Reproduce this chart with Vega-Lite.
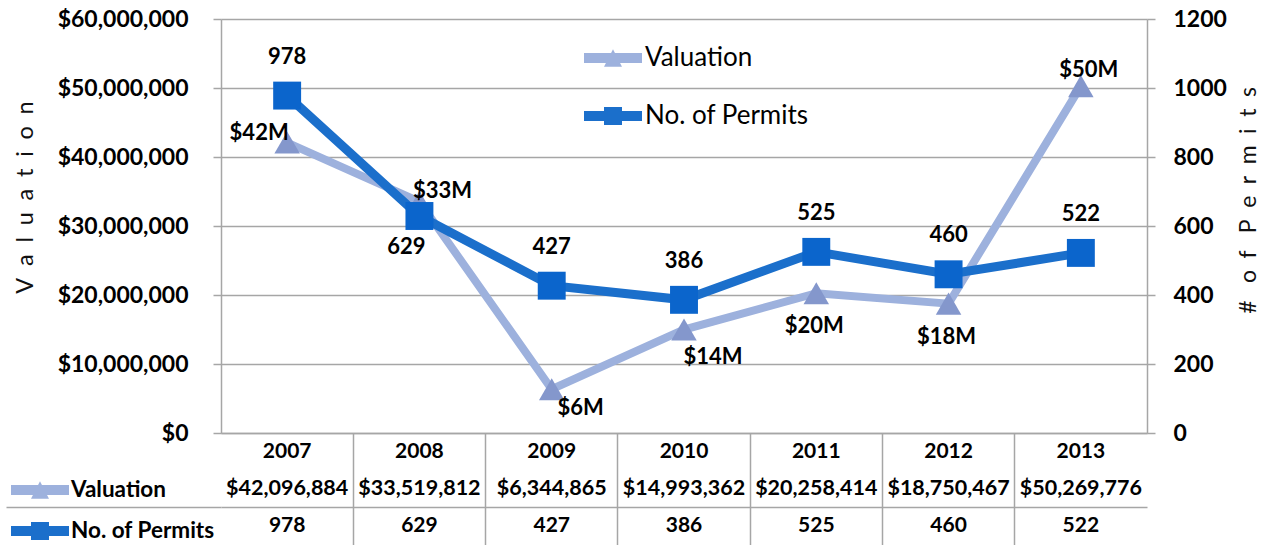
{
  "$schema": "https://vega.github.io/schema/vega-lite/v6.json",
  "padding": {"left": 5, "top": 8, "right": 5, "bottom": 0},
  "background": "white",
  "config": {"font": "Lato", "view": {"stroke": null}, "text": {"font": "Lato"}},
  "data": {"values": [
    {"year": 2007, "valuation": 42096884, "permits": 978, "vlabel": "$42M"},
    {"year": 2008, "valuation": 33519812, "permits": 629, "vlabel": "$33M"},
    {"year": 2009, "valuation": 6344865, "permits": 427, "vlabel": "$6M"},
    {"year": 2010, "valuation": 14993362, "permits": 386, "vlabel": "$14M"},
    {"year": 2011, "valuation": 20258414, "permits": 525, "vlabel": "$20M"},
    {"year": 2012, "valuation": 18750467, "permits": 460, "vlabel": "$18M"},
    {"year": 2013, "valuation": 50269776, "permits": 522, "vlabel": "$50M"}
  ]},
  "spacing": 0,
  "bounds": "flush",
  "resolve": {"scale": {"x": "independent", "color": "independent", "shape": "independent"}, "legend": {"color": "independent", "shape": "independent"}},
  "vconcat": [
    {
      "width": 926,
      "height": 414,
      "resolve": {"scale": {"y": "independent"}},
      "layer": [
        {
          "encoding": {
            "x": {"field": "year", "type": "ordinal", "scale": {"type": "point", "padding": 0.5}, "axis": {"title": null, "labels": false, "ticks": false, "domain": true, "domainColor": "#A6A6A6", "domainWidth": 1.5, "grid": false}},
            "y": {"field": "valuation", "type": "quantitative", "scale": {"domain": [0, 60000000]},
              "axis": {"orient": "left", "title": "V\u2002a\u2002l\u2002u\u2002a\u2002t\u2002i\u2002o\u2002n", "titleFontSize": 23.5, "titleFontWeight": "normal", "titleColor": "#111", "titlePadding": 20, "titleY": 178,
                "format": "$,.0f", "values": [0, 10000000, 20000000, 30000000, 40000000, 50000000, 60000000],
                "labelFontSize": 23, "labelFontWeight": "bold", "labelColor": "#000", "labelPadding": 25,
                "tickSize": 8, "tickColor": "#A6A6A6", "tickWidth": 1.5, "domainColor": "#A6A6A6", "domainWidth": 1.5,
                "grid": true, "gridColor": "#A6A6A6", "gridWidth": 1.5}}
          },
          "layer": [
            {"mark": {"type": "line", "color": "#9DB1DD", "strokeWidth": 8}},
            {"mark": {"type": "point", "shape": "triangle-up", "filled": true, "size": 650, "color": "#8497CC", "opacity": 1}}
          ]
        },
        {
          "encoding": {
            "x": {"field": "year", "type": "ordinal", "scale": {"type": "point", "padding": 0.5}, "axis": {"title": null, "labels": false, "ticks": false, "domain": true, "domainColor": "#A6A6A6", "domainWidth": 1.5, "grid": false}},
            "y": {"field": "permits", "type": "quantitative", "scale": {"domain": [0, 1200]},
              "axis": {"orient": "right", "title": "#\u2002 o\u2002f\u2002 P\u2002e\u2002r\u2002m\u2002i\u2002t\u2002s", "titleAngle": 270, "titleFontSize": 23, "titleFontWeight": "normal", "titleColor": "#111", "titlePadding": 34, "titleY": 181,
                "format": "d", "values": [0, 200, 400, 600, 800, 1000, 1200],
                "labelFontSize": 23, "labelFontWeight": "bold", "labelColor": "#000", "labelPadding": 18,
                "tickSize": 8, "tickColor": "#A6A6A6", "tickWidth": 1.5, "domainColor": "#A6A6A6", "domainWidth": 1.5,
                "grid": false}}
          },
          "layer": [
            {"mark": {"type": "line", "color": "#1B6FCB", "strokeWidth": 9}},
            {"mark": {"type": "point", "shape": "square", "filled": true, "size": 780, "color": "#0B65CC", "opacity": 1}}
          ]
        },
        {
          "encoding": {
            "x": {"field": "year", "type": "ordinal", "scale": {"type": "point", "padding": 0.5}, "axis": {"title": null, "labels": false, "ticks": false, "domain": true, "domainColor": "#A6A6A6", "domainWidth": 1.5, "grid": false}},
            "y": {"field": "valuation", "type": "quantitative", "scale": {"domain": [0, 60000000]}, "axis": null},
            "text": {"field": "vlabel", "type": "nominal"}
          },
          "layer": [
            {"transform": [{"filter": "datum.year == 2007"}], "mark": {"type": "text", "dx": -28, "dy": -10, "fontSize": 22, "fontWeight": "bold", "color": "#000"}},
            {"transform": [{"filter": "datum.year == 2008"}], "mark": {"type": "text", "dx": 23, "dy": -11, "fontSize": 22, "fontWeight": "bold", "color": "#000"}},
            {"transform": [{"filter": "datum.year == 2009"}], "mark": {"type": "text", "dx": 29, "dy": 19, "fontSize": 22, "fontWeight": "bold", "color": "#000"}},
            {"transform": [{"filter": "datum.year == 2010"}], "mark": {"type": "text", "dx": 29, "dy": 27, "fontSize": 22, "fontWeight": "bold", "color": "#000"}},
            {"transform": [{"filter": "datum.year == 2011 || datum.year == 2012"}], "mark": {"type": "text", "dx": -2, "dy": 33, "fontSize": 22, "fontWeight": "bold", "color": "#000"}},
            {"transform": [{"filter": "datum.year == 2013"}], "mark": {"type": "text", "dx": 8, "dy": -16, "fontSize": 22, "fontWeight": "bold", "color": "#000"}}
          ]
        },
        {
          "encoding": {
            "x": {"field": "year", "type": "ordinal", "scale": {"type": "point", "padding": 0.5}, "axis": {"title": null, "labels": false, "ticks": false, "domain": true, "domainColor": "#A6A6A6", "domainWidth": 1.5, "grid": false}},
            "y": {"field": "permits", "type": "quantitative", "scale": {"domain": [0, 1200]}, "axis": null},
            "text": {"field": "permits", "type": "nominal"}
          },
          "layer": [
            {"transform": [{"filter": "datum.year != 2008"}], "mark": {"type": "text", "dy": -39, "fontSize": 22, "fontWeight": "bold", "color": "#000"}},
            {"transform": [{"filter": "datum.year == 2008"}], "mark": {"type": "text", "dx": -13, "dy": 31, "fontSize": 22, "fontWeight": "bold", "color": "#000"}}
          ]
        },
        {
          "data": {"values": [{"series": "Valuation"}, {"series": "No. of Permits"}]},
          "transform": [{"filter": "false"}],
          "mark": {"type": "point", "filled": true, "opacity": 1},
          "encoding": {
            "color": {"field": "series", "type": "nominal", "scale": {"domain": ["Valuation", "No. of Permits"], "range": ["#9DB1DD", "#1B6FCB"]},
              "legend": {"orient": "none", "legendX": 363, "legendY": 10, "title": null, "symbolSize": 3364, "symbolStrokeWidth": 0, "labelFontSize": 26, "labelFont": "Lato", "labelColor": "#000", "labelOffset": 3, "labelLimit": 400, "rowPadding": 16}},
            "shape": {"field": "series", "type": "nominal", "scale": {"domain": ["Valuation", "No. of Permits"], "range": ["M-1,-0.17H1V0.17H-1Z M-0.31,0.3L0,-0.3L0.31,0.3Z", "M-1,-0.17H1V0.17H-1Z M-0.31,-0.31H0.31V0.31H-0.31Z"]},
              "legend": {"orient": "none", "legendX": 363, "legendY": 10, "title": null, "symbolSize": 3364, "symbolStrokeWidth": 0, "labelFontSize": 26, "labelFont": "Lato", "labelColor": "#000", "labelOffset": 3, "labelLimit": 400, "rowPadding": 16}}
          }
        }
      ]
    },
    {
      "width": 926,
      "height": 112,
      "encoding": {
        "x": {"field": "year", "type": "ordinal", "scale": {"type": "band", "paddingInner": 0, "paddingOuter": 0},
          "axis": {"title": null, "values": [2008, 2009, 2010, 2011, 2012, 2013], "bandPosition": 0, "labels": false, "ticks": false, "domain": false, "grid": true, "gridColor": "#A6A6A6", "gridWidth": 1.5}}
      },
      "layer": [
        {"mark": {"type": "text", "fontSize": 21, "fontWeight": "bold", "color": "#000"},
          "encoding": {
            "y": {"datum": "hdr", "type": "nominal", "scale": {"type": "band", "domain": ["hdr", "Valuation", "No. of Permits"], "paddingInner": 0, "paddingOuter": 0},
              "axis": {"title": null, "values": ["No. of Permits"], "bandPosition": 0, "labels": false, "tickSize": 215, "tickColor": "#A6A6A6", "tickWidth": 1.5, "domain": false, "grid": true, "gridColor": "#A6A6A6", "gridWidth": 1.5}},
            "text": {"field": "year", "type": "nominal"}
          }},
        {"mark": {"type": "text", "fontSize": 21.5, "fontWeight": "bold", "color": "#000"},
          "encoding": {
            "y": {"datum": "Valuation", "type": "nominal", "scale": {"type": "band", "domain": ["hdr", "Valuation", "No. of Permits"], "paddingInner": 0, "paddingOuter": 0},
              "axis": {"title": null, "values": ["No. of Permits"], "bandPosition": 0, "labels": false, "tickSize": 215, "tickColor": "#A6A6A6", "tickWidth": 1.5, "domain": false, "grid": true, "gridColor": "#A6A6A6", "gridWidth": 1.5}},
            "text": {"field": "valuation", "type": "quantitative", "format": "$,.0f"}
          }},
        {"mark": {"type": "text", "fontSize": 21, "fontWeight": "bold", "color": "#000"},
          "encoding": {
            "y": {"datum": "No. of Permits", "type": "nominal", "scale": {"type": "band", "domain": ["hdr", "Valuation", "No. of Permits"], "paddingInner": 0, "paddingOuter": 0},
              "axis": {"title": null, "values": ["No. of Permits"], "bandPosition": 0, "labels": false, "tickSize": 215, "tickColor": "#A6A6A6", "tickWidth": 1.5, "domain": false, "grid": true, "gridColor": "#A6A6A6", "gridWidth": 1.5}},
            "text": {"field": "permits", "type": "nominal"}
          }},
        {
          "data": {"values": [{"series": "Valuation"}, {"series": "No. of Permits"}]},
          "transform": [{"filter": "false"}],
          "mark": {"type": "point", "filled": true, "opacity": 1},
          "encoding": {
            "color": {"field": "series", "type": "nominal", "scale": {"domain": ["Valuation", "No. of Permits"], "range": ["#9DB1DD", "#1B6FCB"]},
              "legend": {"orient": "none", "legendX": -210, "legendY": 28, "title": null, "symbolSize": 3364, "symbolStrokeWidth": 0, "labelFontSize": 22.5, "labelFontWeight": "bold", "labelFont": "Lato", "labelColor": "#000", "labelOffset": 2, "labelLimit": 400, "rowPadding": -21}},
            "shape": {"field": "series", "type": "nominal", "scale": {"domain": ["Valuation", "No. of Permits"], "range": ["M-1,-0.17H1V0.17H-1Z M-0.31,0.3L0,-0.3L0.31,0.3Z", "M-1,-0.17H1V0.17H-1Z M-0.31,-0.31H0.31V0.31H-0.31Z"]},
              "legend": {"orient": "none", "legendX": -210, "legendY": 28, "title": null, "symbolSize": 3364, "symbolStrokeWidth": 0, "labelFontSize": 22.5, "labelFontWeight": "bold", "labelFont": "Lato", "labelColor": "#000", "labelOffset": 2, "labelLimit": 400, "rowPadding": -21}}
          }
        }
      ]
    }
  ]
}
